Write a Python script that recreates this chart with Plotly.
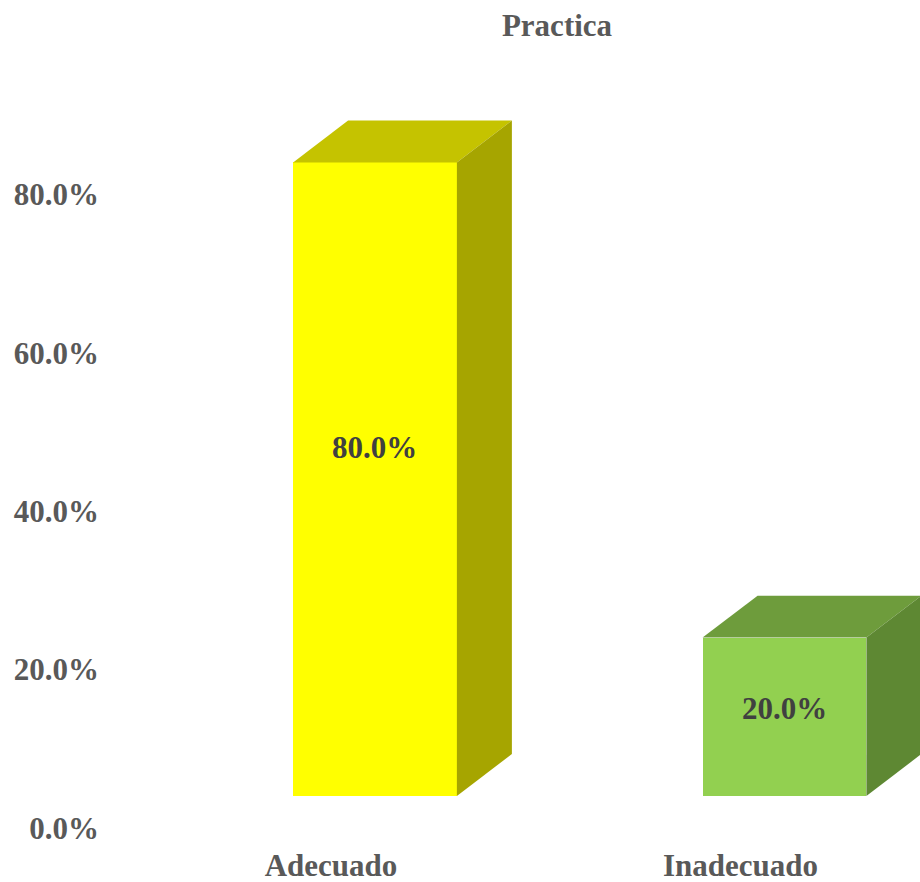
import plotly.graph_objects as go

# ---- data ----
categories = ["Adecuado", "Inadecuado"]
values = [80.0, 20.0]
tick_values = [0, 20, 40, 60, 80]
tick_labels = ["0.0%", "20.0%", "40.0%", "60.0%", "80.0%"]
title_text = "Practica"

# ---- styles ----
front_colors = ["#FFFF00", "#92D050"]
top_colors = ["#C5C300", "#6E9C3C"]
side_colors = ["#A6A500", "#5E8833"]
FONT = "Liberation Serif"
GRAY = "#595959"
DARK = "#404040"
BAR_W = 0.4
DX = 0.1343   # depth offset in x units
DY = 5.30     # depth offset in y units

W, H = 920, 882
ML, MR, MT, MB = 110, 0, 70, 82
xr = [-0.6471, 1.3309]
yr = [-0.505, 91.67]

fig = go.Figure()

xs = list(range(len(categories)))
# front faces
fig.add_trace(go.Bar(
    x=xs, y=values, width=BAR_W,
    marker=dict(color=front_colors, line=dict(width=0)),
    hoverinfo="skip", showlegend=False,
))

# top and side faces
for i, v in enumerate(values):
    l = xs[i] - BAR_W / 2
    r = xs[i] + BAR_W / 2
    fig.add_trace(go.Scatter(
        x=[l, r, r + DX, l + DX, l], y=[v, v, v + DY, v + DY, v],
        mode="lines", fill="toself", fillcolor=top_colors[i],
        line=dict(width=0, color=top_colors[i]),
        hoverinfo="skip", showlegend=False,
    ))
    fig.add_trace(go.Scatter(
        x=[r, r + DX, r + DX, r, r], y=[0, DY, v + DY, v, 0],
        mode="lines", fill="toself", fillcolor=side_colors[i],
        line=dict(width=0, color=side_colors[i]),
        hoverinfo="skip", showlegend=False,
    ))

# value labels
for i, v in enumerate(values):
    fig.add_annotation(
        x=xs[i], y=v * 0.55, text=f"<b>{v:.1f}%</b>", showarrow=False,
        font=dict(family=FONT, size=31, color=DARK),
        xanchor="center", yanchor="middle",
    )

fig.update_layout(
    width=W, height=H,
    margin=dict(l=ML, r=MR, t=MT, b=MB, autoexpand=False),
    paper_bgcolor="white", plot_bgcolor="white",
    title=dict(text=f"<b>{title_text}</b>", x=557 / W, xref="container",
               y=1 - 25 / H, yref="container", xanchor="center", yanchor="middle",
               font=dict(family=FONT, size=31, color=GRAY)),
    xaxis=dict(range=xr, tickvals=xs, ticktext=[f"<b>{c}</b>" for c in categories],
               showgrid=False, zeroline=False, showline=False, ticks="",
               tickfont=dict(family=FONT, size=31, color=GRAY),
               ticklabelshift=-44, ticklabelstandoff=44, fixedrange=True),
    yaxis=dict(range=yr, tickvals=tick_values, ticktext=[f"<b>{t}</b>" for t in tick_labels],
               showgrid=False, zeroline=False, showline=False, ticks="",
               tickfont=dict(family=FONT, size=31, color=GRAY),
               ticklabelshift=32, ticklabelstandoff=10, fixedrange=True),
    bargap=0,
)

fig.write_html("out.html")
